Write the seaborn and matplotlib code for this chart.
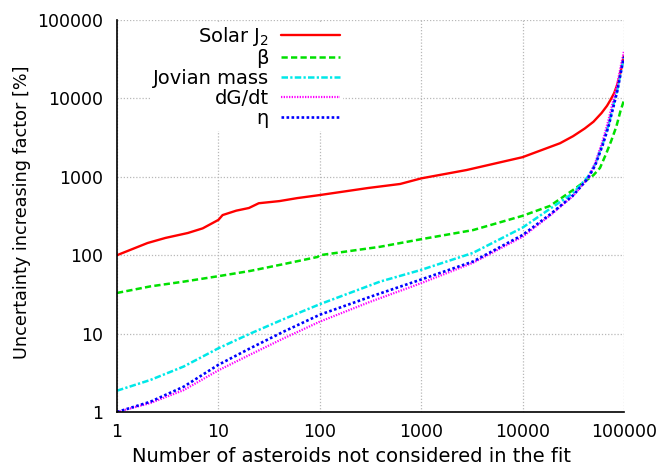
import matplotlib
matplotlib.use("Agg")
import matplotlib.pyplot as plt
import seaborn as sns
import numpy as np
from matplotlib.ticker import FixedLocator, LogLocator, NullFormatter

# ---------------- data ----------------
x_j2 = [1, 2, 3, 5, 7, 10, 11, 15, 20, 25, 40, 60, 100, 300, 620, 1000, 2800,
        10000, 23400, 31500, 41000, 50000, 60000, 68000, 73000, 80000, 85000,
        90000, 95000, 100000]
y_j2 = [100, 143, 166, 192, 220, 282, 325, 370, 400, 460, 490, 535, 585, 720,
        810, 955, 1220, 1780, 2680, 3300, 4130, 5040, 6500, 8050, 9400, 11700,
        14500, 18700, 25500, 35000]

x_beta = [1, 2.13, 4.54, 10, 20.6, 44, 95, 100, 392, 1000, 3240, 10000, 18600,
          31500, 43000, 50000, 58000, 67000, 75000, 84000, 92000, 100000]
y_beta = [33, 40, 46, 54, 63, 77, 95, 100, 128, 160, 209, 318, 425, 680, 910,
          1050, 1300, 2000, 2900, 4360, 6800, 9500]

x_jov = [1, 2.13, 4.54, 10, 20.6, 44, 100, 392, 1000, 3240, 10000, 18600,
         31500, 44000, 52000, 62000, 70000, 78000, 86000, 94700, 100000]
y_jov = [1.87, 2.56, 3.8, 6.5, 10, 15.3, 23.7, 46, 65, 107, 225, 390, 620,
         1000, 1450, 2700, 4500, 8000, 13000, 25000, 33000]

x_eta = [1, 2.13, 4.54, 10, 20.6, 44, 100, 315, 1000, 3240, 10000, 18600,
         31500, 44000, 52000, 62000, 70000, 78000, 86000, 94700, 100000]
y_eta = [1.0, 1.35, 2.1, 4.0, 6.5, 10.6, 17.4, 29.5, 49, 83, 181, 330, 580,
         950, 1400, 2600, 4300, 7500, 12500, 24000, 34000]

x_dg = x_eta
y_dg = [1.0, 1.3, 1.9, 3.4, 5.4, 8.7, 14.2, 25.5, 44, 80, 172, 320, 570, 950,
        1500, 2950, 5200, 9200, 15500, 29000, 40000]

labels = ["Solar J$_\\mathregular{2}$", "\u03b2", "Jovian mass", "dG/dt", "\u03b7"]
tick_vals = [1, 10, 100, 1000, 10000, 100000]
tick_labels = ["1", "10", "100", "1000", "10000", "100000"]
xlabel = "Number of asteroids not considered in the fit"
ylabel = "Uncertainty increasing factor [%]"

# ---------------- style ----------------
sns.set_style("white")
plt.rcParams["font.family"] = ["DejaVu Sans"]
plt.rcParams["mathtext.fontset"] = "custom"
plt.rcParams["mathtext.rm"] = "DejaVu Sans"
for k in ["text.color", "axes.labelcolor", "xtick.color", "ytick.color",
          "axes.edgecolor", "xtick.labelcolor", "ytick.labelcolor"]:
    plt.rcParams[k] = "black"
FS_TICK = 12.5
FS_XLAB = 14
FS_YLAB = 12.7
FS_LEG = 14

fig = plt.figure(figsize=(6.6, 4.72), dpi=100)
ax = fig.add_axes([117 / 660, 60 / 472, 507 / 660, 392 / 472])

series = [
    (x_j2, y_j2, "#ff0000", "-", 1.7),
    (x_beta, y_beta, "#00e000", (0, (2.5, 1.3)), 1.8),
    (x_jov, y_jov, "#00e8e8", (0, (2.6, 0.9, 0.9, 0.9)), 1.8),
    (x_dg, y_dg, "#ff00ff", (0, (0.6, 0.6)), 1.6),
    (x_eta, y_eta, "#0000ff", (0, (1.0, 0.9)), 1.9),
]
for (xs, ys, col, ls, lw), lab in zip(series, labels):
    sns.lineplot(x=xs, y=ys, ax=ax, color=col, linestyle=ls, linewidth=lw,
                 label=lab, sort=False, estimator=None)

ax.set_xscale("log")
ax.set_yscale("log")
ax.set_xlim(1, 100000)
ax.set_ylim(1, 100000)

ax.xaxis.set_major_locator(FixedLocator(tick_vals))
ax.yaxis.set_major_locator(FixedLocator(tick_vals))
ax.set_xticklabels(tick_labels)
ax.set_yticklabels(tick_labels)
ax.xaxis.set_minor_locator(LogLocator(base=10, subs=np.arange(2, 10), numticks=20))
ax.yaxis.set_minor_locator(LogLocator(base=10, subs=np.arange(2, 10), numticks=20))
ax.xaxis.set_minor_formatter(NullFormatter())
ax.yaxis.set_minor_formatter(NullFormatter())

ax.tick_params(which="major", direction="in", length=6.5, width=1.0,
               labelsize=FS_TICK, top=False, right=False, color="black",
               labelcolor="black")
ax.tick_params(which="minor", direction="in", length=3.5, width=1.0,
               top=False, right=False, color="black")
ax.tick_params(axis="y", which="major", pad=10)
ax.tick_params(axis="x", which="major", pad=8)

ax.grid(True, which="major", color="#b8b8b8", linestyle=(0, (1, 1.5)), linewidth=0.9)
ax.set_axisbelow(True)

for s in ["top", "right"]:
    ax.spines[s].set_visible(False)
for s in ["left", "bottom"]:
    ax.spines[s].set_linewidth(1.2)
    ax.spines[s].set_color("black")

ax.set_xlabel(xlabel, fontsize=FS_XLAB, color="black")
ax.set_ylabel(ylabel, fontsize=FS_YLAB, color="black")
ax.xaxis.set_label_coords(0.4635, -0.089)
ax.yaxis.set_label_coords(-0.17, 0.509)

leg = ax.legend(loc="upper right", bbox_to_anchor=(0.445, 0.995), markerfirst=False,
                frameon=True, facecolor="white", edgecolor="none", framealpha=1,
                fontsize=FS_LEG, handlelength=3.0, handletextpad=0.65,
                labelspacing=0.05, borderpad=0.15, borderaxespad=0)
leg.get_frame().set_linewidth(0)
for t in leg.get_texts():
    t.set_color("black")

fig.savefig("out.png", dpi=100)
